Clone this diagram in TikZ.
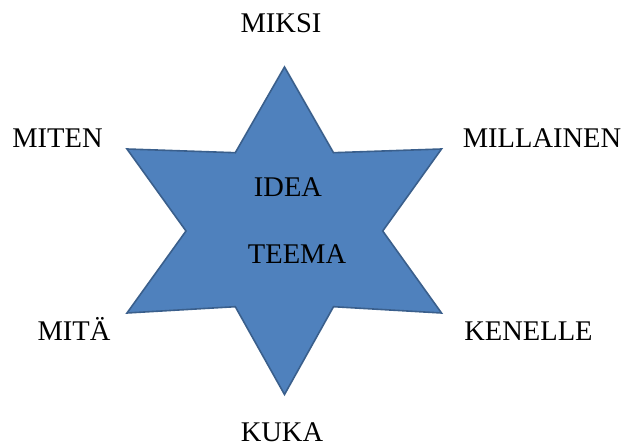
\documentclass[tikz,border=0pt]{standalone}
\usepackage{fontspec}
\setmainfont{Liberation Serif}
\definecolor{starfill}{HTML}{4F81BD}
\definecolor{starline}{HTML}{3A5F8C}
\begin{document}
\begin{tikzpicture}[x=1bp,y=-1bp,
  lbl/.style={anchor=base,inner sep=0pt,text depth=0pt,font=\fontsize{28.5bp}{30bp}\selectfont},
  starshape/.style={fill=starfill,draw=starline,line width=1.6bp,line join=miter}]
\useasboundingbox (0,0) rectangle (624,448);
\draw[starshape] (284.5,67) -- (333.5,152.7) -- (441.5,149) -- (382.7,231) -- (441.5,313) -- (333.5,306.7)
  -- (284.5,394.5) -- (235.3,306.7) -- (127,313) -- (186,231) -- (127,149) -- (235.3,152.7) -- cycle;
\node[lbl] (idea) at (288,196.5) {IDEA};
\node[lbl] (teema) at (297,264) {TEEMA};
\node[lbl] (miksi) at (281,33) {MIKSI};
\node[lbl] (miten) at (57.5,148) {MITEN};
\node[lbl] (millainen) at (542,148) {MILLAINEN};
\node[lbl] (mita) at (74,340) {MITÄ};
\node[lbl] (kenelle) at (528.5,340) {KENELLE};
\node[lbl] (kuka) at (282,441) {KUKA};
\end{tikzpicture}
\end{document}
